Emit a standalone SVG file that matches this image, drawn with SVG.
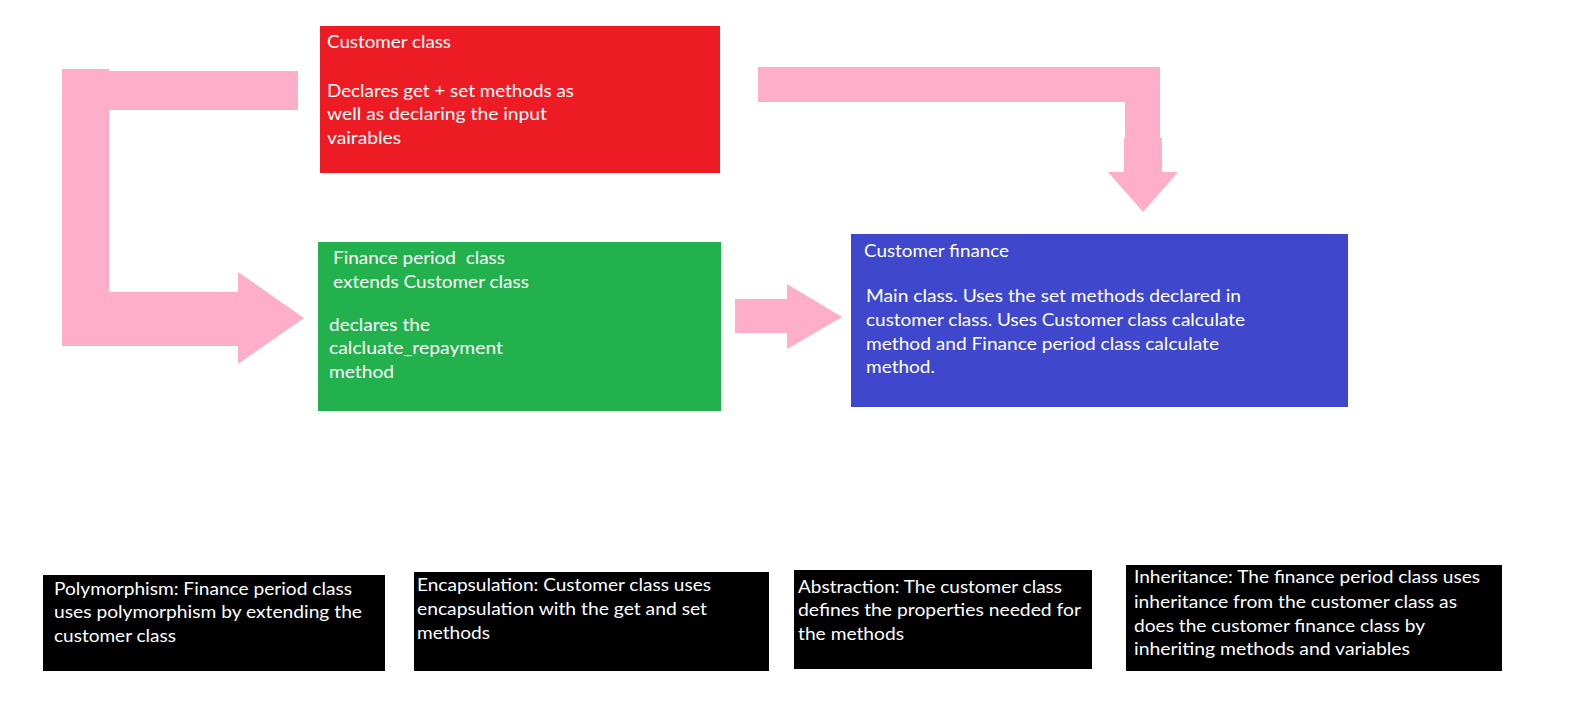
<svg xmlns="http://www.w3.org/2000/svg" width="1583" height="714" viewBox="0 0 1583 714">
<style>
.t{font-family:Lato,"Liberation Sans",sans-serif;font-size:17px;fill:#ffffff}
.pink{fill:#FFAEC9}
</style>
<rect x="0" y="0" width="1583" height="714" fill="#ffffff"/>
<g id="connectors">
<path class="pink" d="M62,69 H109 V71 H298 V110 H109 V292 H238 V272 L304,318 L238,364 V346 H62 Z"/>
<path class="pink" d="M758,67 H1160 V138 H1162 V172 H1178 L1143,212 L1108,172 H1124 V138 H1125 V102 H758 Z"/>
<path class="pink" d="M735,299 H787 V284 L842,317 L787,349 V333 H735 Z"/>
</g>
<g id="customer-class">
<rect x="320" y="26" width="400" height="147" fill="#ED1C24"/>
<text class="t" x="327" y="48" textLength="124" lengthAdjust="spacingAndGlyphs">Customer class</text>
<text class="t" x="327" y="97" textLength="247" lengthAdjust="spacingAndGlyphs">Declares get + set methods as</text>
<text class="t" x="327" y="120" textLength="220" lengthAdjust="spacingAndGlyphs">well as declaring the input</text>
<text class="t" x="327" y="144" textLength="74" lengthAdjust="spacingAndGlyphs">vairables</text>
</g>
<g id="finance-period-class">
<rect x="318" y="242" width="403" height="169" fill="#22B14C"/>
<text class="t" x="333" y="264" textLength="172" lengthAdjust="spacingAndGlyphs" xml:space="preserve">Finance period  class</text>
<text class="t" x="333" y="288" textLength="196" lengthAdjust="spacingAndGlyphs">extends Customer class</text>
<text class="t" x="329" y="331" textLength="101" lengthAdjust="spacingAndGlyphs">declares the</text>
<text class="t" x="329" y="354" textLength="174" lengthAdjust="spacingAndGlyphs">calcluate_repayment</text>
<text class="t" x="329" y="378" textLength="65" lengthAdjust="spacingAndGlyphs">method</text>
</g>
<g id="customer-finance">
<rect x="851" y="234" width="497" height="173" fill="#3F48CC"/>
<text class="t" x="864" y="257" textLength="145" lengthAdjust="spacingAndGlyphs">Customer finance</text>
<text class="t" x="866" y="302" textLength="375" lengthAdjust="spacingAndGlyphs">Main class. Uses the set methods declared in</text>
<text class="t" x="866" y="326" textLength="379" lengthAdjust="spacingAndGlyphs">customer class. Uses Customer class calculate</text>
<text class="t" x="866" y="350" textLength="353" lengthAdjust="spacingAndGlyphs">method and Finance period class calculate</text>
<text class="t" x="866" y="373" textLength="69" lengthAdjust="spacingAndGlyphs">method.</text>
</g>
<g id="polymorphism">
<rect x="43" y="575" width="342" height="96" fill="#000000"/>
<text class="t" x="54" y="595" textLength="298" lengthAdjust="spacingAndGlyphs">Polymorphism: Finance period class</text>
<text class="t" x="54" y="618" textLength="308" lengthAdjust="spacingAndGlyphs">uses polymorphism by extending the</text>
<text class="t" x="54" y="642" textLength="122" lengthAdjust="spacingAndGlyphs">customer class</text>
</g>
<g id="encapsulation">
<rect x="414" y="572" width="355" height="99" fill="#000000"/>
<text class="t" x="417" y="591" textLength="294" lengthAdjust="spacingAndGlyphs">Encapsulation: Customer class uses</text>
<text class="t" x="417" y="615" textLength="290" lengthAdjust="spacingAndGlyphs">encapsulation with the get and set</text>
<text class="t" x="417" y="639" textLength="73" lengthAdjust="spacingAndGlyphs">methods</text>
</g>
<g id="abstraction">
<rect x="794" y="570" width="298" height="99" fill="#000000"/>
<text class="t" x="798" y="593" textLength="264" lengthAdjust="spacingAndGlyphs">Abstraction: The customer class</text>
<text class="t" x="798" y="616" textLength="283" lengthAdjust="spacingAndGlyphs">defines the properties needed for</text>
<text class="t" x="798" y="640" textLength="106" lengthAdjust="spacingAndGlyphs">the methods</text>
</g>
<g id="inheritance">
<rect x="1126" y="565" width="376" height="106" fill="#000000"/>
<text class="t" x="1134" y="583" textLength="346" lengthAdjust="spacingAndGlyphs">Inheritance: The finance period class uses</text>
<text class="t" x="1134" y="608" textLength="323" lengthAdjust="spacingAndGlyphs">inheritance from the customer class as</text>
<text class="t" x="1134" y="632" textLength="291" lengthAdjust="spacingAndGlyphs">does the customer finance class by</text>
<text class="t" x="1134" y="655" textLength="276" lengthAdjust="spacingAndGlyphs">inheriting methods and variables</text>
</g>
</svg>
